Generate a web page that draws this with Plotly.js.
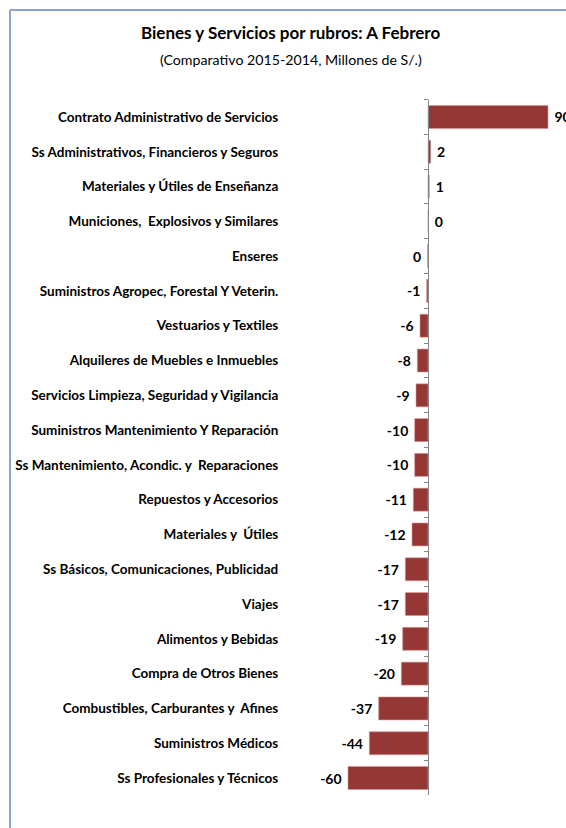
<!DOCTYPE html>
<html>
<head>
<meta charset="utf-8">
<script src="https://cdn.plot.ly/plotly-3.0.1.min.js"></script>
<style>html,body{margin:0;padding:0;background:#fff;}#chart{width:566px;height:828px;}</style>
</head>
<body>
<div id="chart"></div>
<script>
const categories = [
  "Contrato Administrativo de Servicios",
  "Ss Administrativos, Financieros y Seguros",
  "Materiales y Útiles de Enseñanza",
  "Municiones,  Explosivos y Similares",
  "Enseres",
  "Suministros Agropec, Forestal Y Veterin.",
  "Vestuarios y Textiles",
  "Alquileres de Muebles e Inmuebles",
  "Servicios Limpieza, Seguridad y Vigilancia",
  "Suministros Mantenimiento Y Reparación",
  "Ss Mantenimiento, Acondic. y  Reparaciones",
  "Repuestos y Accesorios",
  "Materiales y  Útiles",
  "Ss Básicos, Comunicaciones, Publicidad",
  "Viajes",
  "Alimentos y Bebidas",
  "Compra de Otros Bienes",
  "Combustibles, Carburantes y  Afines",
  "Suministros Médicos",
  "Ss Profesionales y Técnicos"
];
const values = [90, 2, 1, 0.3, -0.3, -1, -6, -8, -9, -10, -10, -11, -12, -17, -17, -19, -20, -37, -44, -60];

const FONT = "Lato, 'Noto Sans', sans-serif";
const W = 566, H = 828;
const zeroPx = 428, pxPerUnit = 80 / 60;

const labels = values.map(v => {
  const s = String(Math.round(v) === 0 ? 0 : Math.round(v));
  return v >= 0 ? "\u00a0" + s : s + "\u00a0";
});

const trace = {
  type: "bar",
  orientation: "h",
  x: values,
  y: categories,
  text: labels,
  textposition: "outside",
  cliponaxis: false,
  constraintext: "none",
  textfont: {family: FONT, size: 14, color: "#000", weight: "bold"},
  marker: {color: "#953735", line: {color: "#d99694", width: 0.6}},
  hoverinfo: "none"
};

const layout = {
  width: W, height: H,
  margin: {l: 0, r: 0, t: 0, b: 0},
  paper_bgcolor: "#fff", plot_bgcolor: "rgba(0,0,0,0)",
  showlegend: false,
  bargap: 0.34,
  xaxis: {
    range: [-zeroPx / pxPerUnit, (W - zeroPx) / pxPerUnit],
    domain: [0, 1],
    visible: false, showgrid: false, zeroline: false, fixedrange: true
  },
  yaxis: {
    type: "category",
    autorange: false,
    range: [categories.length - 0.5, -0.5],
    domain: [(H - 795.4) / H, (H - 99.6) / H],
    anchor: "free",
    position: zeroPx / W,
    showline: true, linecolor: "#868686", linewidth: 1,
    ticks: "outside", ticklen: 4, tickcolor: "#868686", tickwidth: 1,
    tickson: "boundaries",
    showgrid: false, zeroline: false,
    automargin: false,
    ticklabelstandoff: 147,
    tickfont: {family: FONT, size: 13.5, color: "#000", weight: "bold"},
    fixedrange: true
  },
  annotations: [
    {text: "<b>Bienes y Servicios por rubros: A Febrero</b>", xref: "paper", yref: "paper",
     x: 290 / W, y: 1 - 33 / H, xanchor: "center", yanchor: "middle", showarrow: false,
     font: {family: FONT, size: 17, color: "#000"}},
    {text: "(Comparativo 2015-2014, Millones de S/.)", xref: "paper", yref: "paper",
     x: 291 / W, y: 1 - 60 / H, xanchor: "center", yanchor: "middle", showarrow: false,
     font: {family: FONT, size: 14.2, color: "#000"}}
  ],
  shapes: [
    {type: "line", xref: "paper", yref: "paper", x0: 10 / W, x1: 10 / W, y0: 0, y1: 1 - 10 / H,
     line: {color: "#8ea4c8", width: 2}},
    {type: "line", xref: "paper", yref: "paper", x0: 10 / W, x1: 1, y0: 1 - 10 / H, y1: 1 - 10 / H,
     line: {color: "#8ea4c8", width: 2}}
  ]
};

Plotly.newPlot("chart", [trace], layout, {displayModeBar: false, staticPlot: true});
</script>
</body>
</html>
